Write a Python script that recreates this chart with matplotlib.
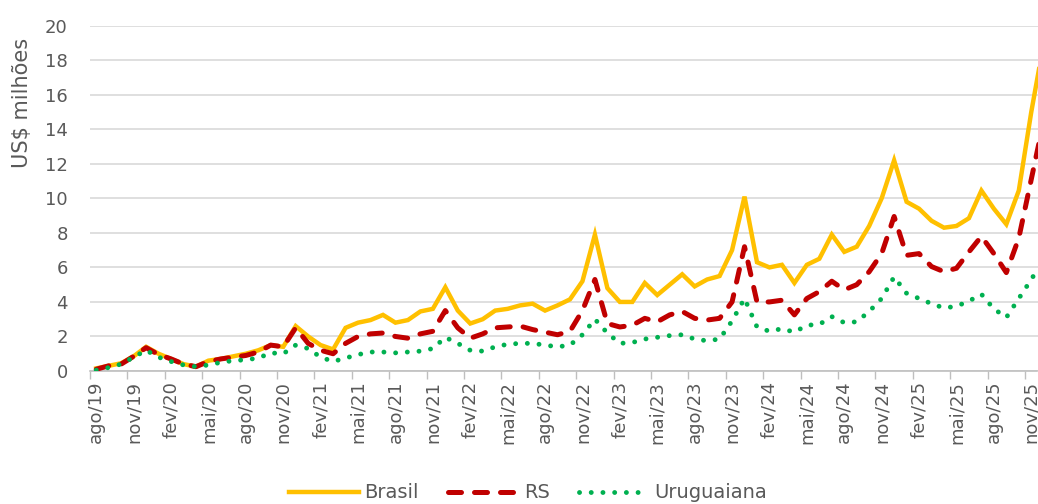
import numpy as np
import matplotlib
matplotlib.use("Agg")
import matplotlib.pyplot as plt

# monthly values, ago/19 .. dez/25 (last month sits past the cropped right edge)
brasil = [0.15, 0.3, 0.45, 0.85, 1.4, 1.0, 0.7, 0.4, 0.25, 0.6, 0.7, 0.85,
          1.0, 1.2, 1.5, 1.4, 2.6, 2.0, 1.5, 1.25, 2.5, 2.8, 2.95, 3.25,
          2.8, 2.95, 3.45, 3.6, 4.85, 3.5, 2.75, 3.0, 3.5, 3.6, 3.8, 3.9,
          3.5, 3.8, 4.15, 5.2, 7.9, 4.8, 4.0, 4.0, 5.1, 4.4, 5.0, 5.6,
          4.9, 5.3, 5.5, 7.0, 10.1, 6.3, 6.0, 6.15, 5.1, 6.15, 6.5, 7.9,
          6.9, 7.2, 8.4, 10.0, 12.2, 9.8, 9.4, 8.7, 8.3, 8.4, 8.85, 10.45,
          9.4, 8.5, 10.45, 15.0, 19.0]
rs = [0.1, 0.3, 0.4, 0.85, 1.35, 0.95, 0.7, 0.4, 0.25, 0.55, 0.7, 0.8,
      0.9, 1.1, 1.5, 1.4, 2.5, 1.6, 1.2, 1.0, 1.6, 2.0, 2.15, 2.2,
      2.0, 1.9, 2.15, 2.3, 3.5, 2.5, 1.9, 2.15, 2.5, 2.55, 2.6, 2.4,
      2.25, 2.1, 2.3, 3.5, 5.3, 2.75, 2.55, 2.65, 3.05, 2.85, 3.25, 3.45,
      3.05, 2.95, 3.05, 4.0, 7.2, 4.0, 4.0, 4.1, 3.25, 4.2, 4.6, 5.2,
      4.7, 5.0, 5.75, 6.8, 8.95, 6.7, 6.8, 6.05, 5.75, 5.95, 6.9, 7.8,
      6.8, 5.7, 7.7, 11.1, 14.5]
uruguaiana = [0.05, 0.2, 0.4, 0.8, 1.2, 0.8, 0.55, 0.35, 0.25, 0.35, 0.5, 0.6,
              0.65, 0.75, 1.05, 1.0, 1.5, 1.3, 0.8, 0.55, 0.75, 0.95, 1.1, 1.1,
              1.05, 1.1, 1.15, 1.3, 1.95, 1.6, 1.2, 1.15, 1.4, 1.55, 1.6, 1.6,
              1.5, 1.4, 1.5, 2.1, 3.0, 2.2, 1.6, 1.65, 1.85, 1.95, 2.05, 2.1,
              1.85, 1.75, 1.85, 2.9, 4.2, 2.55, 2.3, 2.45, 2.25, 2.65, 2.7, 3.15,
              2.8, 2.85, 3.45, 4.2, 5.45, 4.5, 4.2, 3.9, 3.65, 3.75, 4.05, 4.45,
              3.6, 3.1, 4.2, 5.3, 6.5]

months = ["jan", "fev", "mar", "abr", "mai", "jun",
          "jul", "ago", "set", "out", "nov", "dez"]
labels = []
for k in range(len(brasil)):
    m = 7 + k  # ago/19 is month index 7 of 2019
    labels.append(f"{months[m % 12]}/{19 + m // 12}")

x = np.arange(len(brasil))
grey = "#595959"

fig = plt.figure(figsize=(10.38, 5.04), dpi=100)
ax = fig.add_axes([90 / 1038, 133 / 504, 947.5 / 1038, 345.3 / 504])

ax.plot(x, brasil, color="#FFC000", lw=3.2, solid_joinstyle="miter", zorder=3, label="Brasil")
ax.plot(x, rs, color="#C00000", lw=3.6, linestyle=(0, (2.6, 2.6)),
        dash_capstyle="round", zorder=4, label="RS")
ax.plot(x, uruguaiana, color="#00B050", lw=3.5, linestyle=(0, (0.01, 2.4)),
        dash_capstyle="round", zorder=5, label="Uruguaiana")

ax.set_xlim(-0.5, 75.5)
ax.set_ylim(0, 20)
ax.set_yticks(np.arange(0, 21, 2))
ax.tick_params(axis="y", length=0, pad=16, labelsize=13, labelcolor=grey)
ax.grid(axis="y", color="#D9D9D9", lw=1.2)
ax.set_axisbelow(True)

ax.set_xticks(np.arange(-0.5, 76, 3))
ax.set_xticklabels([])
ax.tick_params(axis="x", which="major", length=6, color="#BFBFBF", width=1)
ax.set_xticks(x[:76:3], minor=True)
ax.set_xticklabels(labels[:76:3], minor=True, rotation=90)
ax.tick_params(axis="x", which="minor", length=0, pad=7, labelsize=13, labelcolor=grey)

for s in ["top", "right", "left"]:
    ax.spines[s].set_visible(False)
ax.spines["bottom"].set_color("#BFBFBF")
ax.spines["bottom"].set_linewidth(1.2)

fig.text(22 / 1038, 1 - 103 / 504, "US$ milhões", rotation=90, ha="center",
         va="center", fontsize=15, color=grey)

fig.legend(loc="center", bbox_to_anchor=(528 / 1038, 1 - 493 / 504), ncol=3,
           frameon=False, fontsize=14, handlelength=3.6, handletextpad=0.3,
           columnspacing=1.5, labelcolor=grey)

fig.savefig("out.png", dpi=100)
